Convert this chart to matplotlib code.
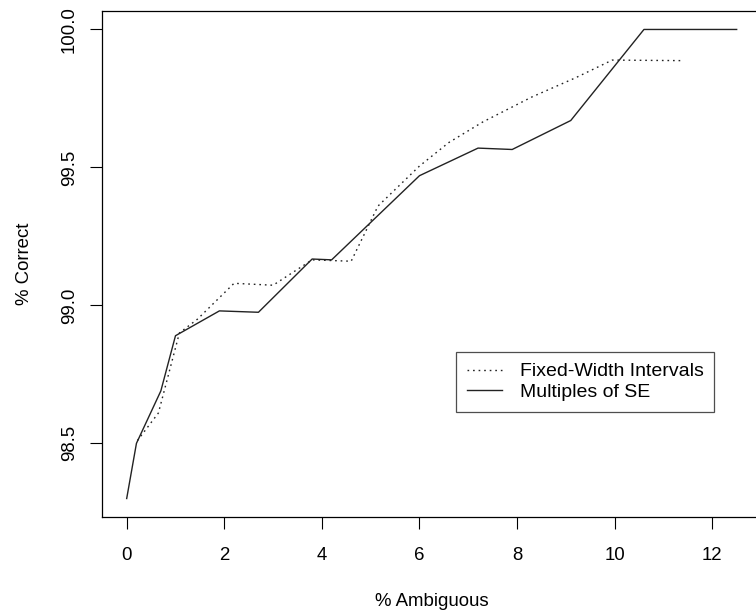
import matplotlib
matplotlib.use("Agg")
import matplotlib.pyplot as plt

plt.rcParams["font.family"] = ["Liberation Sans", "DejaVu Sans"]

# % ambiguous vs % correct
fixed_x = [0.22, 0.65, 1.08, 1.45, 2.2, 3.0, 3.8, 4.6, 5.15, 6.0, 6.6, 7.3, 8.3, 9.2, 9.95, 11.4]
fixed_y = [98.51, 98.61, 98.90, 98.95, 99.08, 99.073, 99.165, 99.16, 99.36, 99.505, 99.59, 99.665, 99.755, 99.825, 99.889, 99.887]

se_x = [0, 0.2, 0.7, 1.0, 1.9, 2.7, 3.8, 4.2, 6.0, 7.2, 7.9, 9.1, 10.6, 12.5]
se_y = [98.30, 98.50, 98.69, 98.89, 98.98, 98.975, 99.168, 99.165, 99.47, 99.57, 99.565, 99.67, 100.0, 100.0]

x_ticks = [0, 2, 4, 6, 8, 10, 12]
y_ticks = [98.5, 99.0, 99.5, 100.0]
labels = ["Fixed-Width Intervals", "Multiples of SE"]

fig = plt.figure(figsize=(7.56, 6.15), dpi=100)
ax = fig.add_axes([0.1353, 0.1589, 0.8714, 0.8237])

ax.plot(fixed_x, fixed_y, color="#222222", linewidth=1.0, dashes=(1.2, 2.8), label=labels[0])
ax.plot(se_x, se_y, color="#222222", linewidth=1.0, label=labels[1])

ax.set_xlim(-0.5, 13.0)
ax.set_ylim(98.232, 100.068)
ax.set_xticks(x_ticks)
ax.set_yticks(y_ticks)
ax.set_yticklabels([f"{v:.1f}" for v in y_ticks], rotation=90, va="center")

ax.tick_params(direction="out", length=8.6, width=0.8, labelsize=13.4)
ax.tick_params(axis="x", pad=12.5)
ax.tick_params(axis="y", pad=9)
for s in ax.spines.values():
    s.set_linewidth(0.9)

ax.set_xlabel("% Ambiguous", fontsize=13.4, labelpad=21)
ax.set_ylabel("% Correct", fontsize=13.4, labelpad=20)

leg = ax.legend(loc="upper left", bbox_to_anchor=(456 / 756, 1 - 352 / 615),
                bbox_transform=fig.transFigure, fontsize=14, frameon=True,
                fancybox=False, borderaxespad=0, handlelength=1.8,
                handletextpad=0.93, labelspacing=0.15, borderpad=0.55)
leg.get_frame().set_edgecolor("#222222")
leg.get_frame().set_linewidth(0.9)

fig.savefig("out.png", dpi=100)
